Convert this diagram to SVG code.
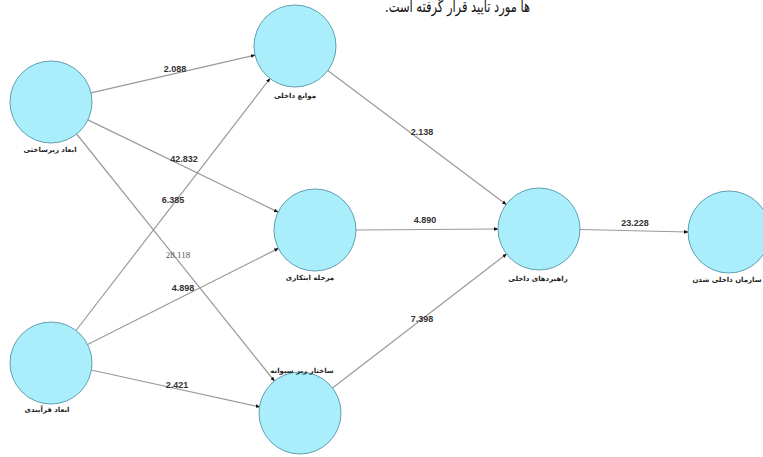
<svg xmlns="http://www.w3.org/2000/svg" width="763" height="457" viewBox="0 0 763 457">
<style>
.node{fill:#aaeefc;stroke:#5f9fb3;stroke-width:1}
.edge{stroke:#9a9a9a;stroke-width:1.2;fill:none}
.nl{font-family:"DejaVu Sans",sans-serif;font-size:7px;font-weight:bold;fill:#222;text-anchor:middle}
.el{font-family:"Liberation Sans",Arial,sans-serif;font-size:9px;font-weight:bold;fill:#333;text-anchor:middle}
.el2{font-family:"Liberation Serif",serif;font-size:9px;fill:#555;text-anchor:middle}
.title{font-family:"DejaVu Sans",sans-serif;font-size:16px;fill:#111}
</style>
<defs>
<marker id="ah" viewBox="0 0 10 10" refX="9" refY="5" markerWidth="4.5" markerHeight="4.5" orient="auto" markerUnits="userSpaceOnUse">
<path d="M0,1 L10,5 L0,9 z" fill="#111"/>
</marker>
</defs>
<rect width="763" height="457" fill="#fff"/>
<text class="title" x="530" y="12" direction="rtl" text-anchor="start" textLength="145" lengthAdjust="spacingAndGlyphs">ها مورد تایید قرار گرفته است.</text>
<g id="connectors">
<line class="edge" x1="91" y1="92.8" x2="255" y2="55.2" marker-end="url(#ah)"/>
<line class="edge" x1="87.9" y1="119.9" x2="278.1" y2="212.1" marker-end="url(#ah)"/>
<line class="edge" x1="76.6" y1="134" x2="274.4" y2="381" marker-end="url(#ah)"/>
<line class="edge" x1="76" y1="330.5" x2="270" y2="78.5" marker-end="url(#ah)"/>
<line class="edge" x1="87.6" y1="344.5" x2="278.4" y2="248.4" marker-end="url(#ah)"/>
<line class="edge" x1="91.2" y1="370" x2="259.8" y2="407" marker-end="url(#ah)"/>
<line class="edge" x1="327.8" y1="70.6" x2="506.2" y2="204.4" marker-end="url(#ah)"/>
<line class="edge" x1="356" y1="230" x2="498" y2="229" marker-end="url(#ah)"/>
<line class="edge" x1="332.5" y1="388" x2="506.5" y2="254" marker-end="url(#ah)"/>
<line class="edge" x1="580" y1="229.5" x2="688" y2="232" marker-end="url(#ah)"/>
<text class="el" x="175" y="72">2.088</text>
<text class="el" x="184" y="162">42.832</text>
<text class="el" x="173" y="203">6.385</text>
<text class="el2" x="178" y="258">28.118</text>
<text class="el" x="183" y="291">4.898</text>
<text class="el" x="177" y="388">2.421</text>
<text class="el" x="422" y="135">2.138</text>
<text class="el" x="425" y="223">4.890</text>
<text class="el" x="422" y="322">7.398</text>
<text class="el" x="635" y="226">23.228</text>
</g>
<g id="n1"><circle class="node" cx="51" cy="102" r="41"/><text class="nl" x="50" y="152">ابعاد زیرساختی</text></g>
<g id="n2"><circle class="node" cx="295" cy="46" r="41"/><text class="nl" x="295" y="98">موانع داخلی</text></g>
<g id="n3"><circle class="node" cx="315" cy="230" r="41"/><text class="nl" x="310" y="280">مرحله ابتکاری</text></g>
<g id="n4"><circle class="node" cx="300" cy="413" r="41"/><text class="nl" x="302" y="373">ساختار ریز سیوانه</text></g>
<g id="n5"><circle class="node" cx="539" cy="229" r="41"/><text class="nl" x="538" y="281">راهبردهای داخلی</text></g>
<g id="n6"><circle class="node" cx="729" cy="232" r="41"/><text class="nl" x="727" y="282">سازمان داخلی شدن</text></g>
<g id="n7"><circle class="node" cx="51" cy="363" r="41"/><text class="nl" x="47" y="412">ابعاد فرآیندی</text></g>
</svg>
